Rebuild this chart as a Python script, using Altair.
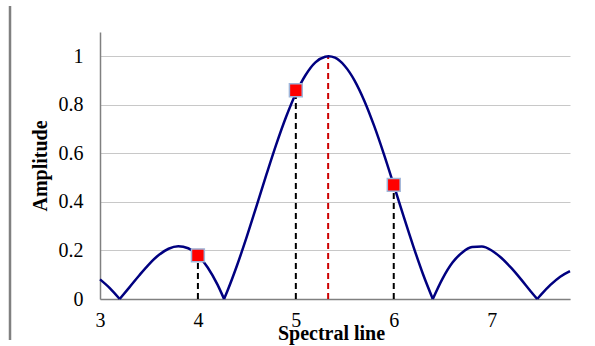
import altair as alt
import pandas as pd

# Curve (spectral line vs amplitude); lobe = arch between zeros
curve_x = [3.0, 3.1, 3.201,
           3.201, 3.3, 3.4, 3.5, 3.6, 3.7, 3.8, 3.9, 4.0, 4.1, 4.2, 4.267,
           4.267, 4.3, 4.4, 4.5, 4.6, 4.7, 4.8, 4.9, 5.0, 5.1, 5.2, 5.3, 5.333, 5.4, 5.5,
           5.6, 5.7, 5.8, 5.9, 6.0, 6.1, 6.2, 6.3, 6.399,
           6.399, 6.5, 6.6, 6.7, 6.8, 6.9, 7.0, 7.1, 7.2, 7.3, 7.4, 7.465,
           7.465, 7.5, 7.6, 7.7, 7.8]
curve_y = [0.081, 0.045, 0.0,
           0.0, 0.048, 0.097, 0.143, 0.181, 0.207, 0.217, 0.209, 0.180, 0.130, 0.059, 0.0,
           0.0, 0.032, 0.139, 0.258, 0.385, 0.513, 0.637, 0.750, 0.847, 0.923, 0.975, 0.998,
           1.0, 0.994, 0.960, 0.900, 0.816, 0.713, 0.596, 0.470, 0.341, 0.217, 0.101, 0.0,
           0.0, 0.085, 0.150, 0.192, 0.214, 0.216, 0.200, 0.169, 0.128, 0.081, 0.031, 0.0,
           0.0, 0.016, 0.058, 0.092, 0.115]
curve_lobe = [0] * 3 + [1] * 12 + [2] * 24 + [3] * 12 + [4] * 5

# Sampled spectral lines (markers)
sample_x = [4, 5, 6]
sample_y = [0.18, 0.86, 0.47]

# Peak position
peak_x = [5.33]
peak_y = [1.0]

curve = pd.DataFrame({"x": curve_x, "y": curve_y, "lobe": curve_lobe})
samples = pd.DataFrame({"x": sample_x, "y": sample_y, "y0": [0] * len(sample_x)})
peak = pd.DataFrame({"x": peak_x, "y": peak_y, "y0": [0]})

FONT = "Liberation Serif"

xscale = alt.Scale(domain=[3, 7.8], nice=False, zero=False)
yscale = alt.Scale(domain=[0, 1.1], nice=False)

xaxis = alt.Axis(
    values=[3, 4, 5, 6, 7], format="d", grid=False, ticks=False,
    domainColor="#808080", domainWidth=1.5, labelFlush=False,
    labelFont=FONT, labelFontSize=20, labelColor="#000000", labelPadding=11,
    title="Spectral line", titleFont=FONT, titleFontSize=20, titleFontWeight="bold",
    titleColor="#000000", titleX=231, titleY=40, titleBaseline="alphabetic",
    titleAlign="center",
)
yaxis = alt.Axis(
    values=[0, 0.2, 0.4, 0.6, 0.8, 1], grid=True, gridColor="#C8C8C8", gridWidth=1,
    ticks=False, domainColor="#808080", domainWidth=1.5, labelFlush=False,
    labelExpr="datum.value == 0 ? '0' : datum.value == 1 ? '1' : format(datum.value, '.1f')",
    labelFont=FONT, labelFontSize=20, labelColor="#000000", labelPadding=17,
    title="Amplitude", titleFont=FONT, titleFontSize=20, titleFontWeight="bold",
    titleColor="#000000", titleAngle=270, titleX=-60, titleY=133.5,
    titleAlign="center", titleBaseline="middle",
)

line = alt.Chart(curve).mark_line(
    color="#000080", strokeWidth=2.5, interpolate="monotone"
).encode(
    x=alt.X("x:Q", scale=xscale, axis=xaxis),
    y=alt.Y("y:Q", scale=yscale, axis=yaxis),
    detail="lobe:N",
    order="x:Q",
)

drops = alt.Chart(samples).mark_rule(color="#000000", strokeWidth=2, strokeDash=[6, 4]).encode(
    x="x:Q", y="y0:Q", y2="y:Q"
)

peak_rule = alt.Chart(peak).mark_rule(color="#CC0000", strokeWidth=2, strokeDash=[6, 4]).encode(
    x="x:Q", y="y0:Q", y2="y:Q"
)

points = alt.Chart(samples).mark_point(
    shape="square", filled=True, size=165, color="#FF0000", opacity=1,
    stroke="#9FB6DA", strokeWidth=1.5,
).encode(x="x:Q", y="y:Q")

frame = alt.Chart(pd.DataFrame({"a": [0]})).mark_rule(color="#808080", strokeWidth=2.5).encode(
    x=alt.value(-90), y=alt.value(-26), y2=alt.value(308)
)

chart = alt.layer(drops, peak_rule, line, points, frame).properties(
    width=470, height=267,
    autosize=alt.AutoSizeParams(type="none"),
    padding={"left": 100, "top": 32, "right": 25, "bottom": 47},
    background="#FFFFFF",
).configure_view(stroke=None).configure_axis(
    labelFont=FONT, titleFont=FONT
)

chart.save("out.html", embed_options={"renderer": "svg", "actions": False})
